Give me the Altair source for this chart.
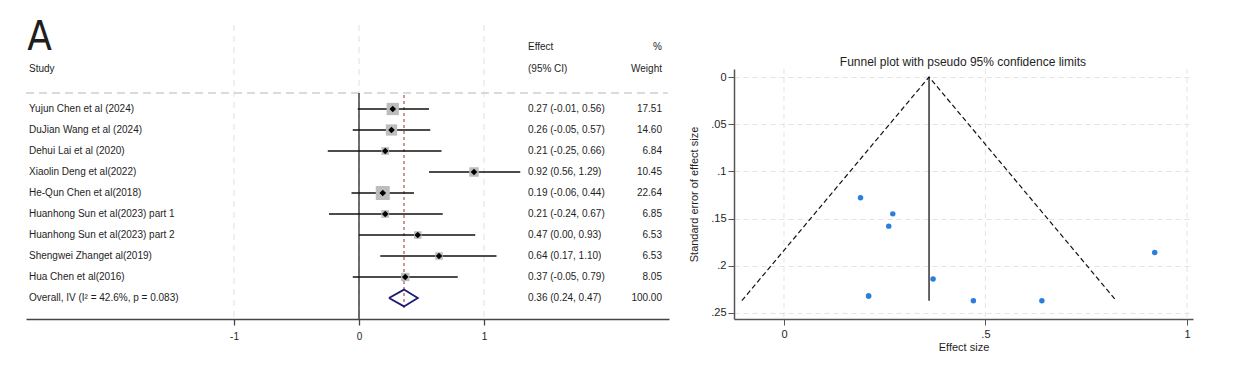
import altair as alt
import pandas as pd

# ---------------- data ----------------
studies = [
    "Yujun Chen et al (2024)",
    "DuJian Wang et al (2024)",
    "Dehui Lai et al (2020)",
    "Xiaolin Deng et al(2022)",
    "He-Qun Chen et al(2018)",
    "Huanhong Sun et al(2023) part 1",
    "Huanhong Sun et al(2023) part 2",
    "Shengwei Zhanget al(2019)",
    "Hua Chen et al(2016)",
]
effects = [0.27, 0.26, 0.21, 0.92, 0.19, 0.21, 0.47, 0.64, 0.37]
lower = [-0.01, -0.05, -0.25, 0.56, -0.06, -0.24, 0.00, 0.17, -0.05]
upper = [0.56, 0.57, 0.66, 1.29, 0.44, 0.67, 0.93, 1.10, 0.79]
weights = [17.51, 14.60, 6.84, 10.45, 22.64, 6.85, 6.53, 6.53, 8.05]
std_errors = [0.145, 0.158, 0.232, 0.186, 0.128, 0.232, 0.237, 0.237, 0.214]

overall_label = "Overall, IV (I\u00b2 = 42.6%, p = 0.083)"
overall_effect = 0.36
overall_lower = 0.24
overall_upper = 0.47
overall_weight = 100.00

forest_ticks = [-1, 0, 1]
funnel_x_ticks = [0, 0.5, 1]
funnel_y_ticks = [0, 0.05, 0.1, 0.15, 0.2, 0.25]

# ---------------- layout constants ----------------
FONT = "Liberation Sans"
TXT = "#1e1e1e"
rows = list(range(1, len(studies) + 1))
overall_row = len(studies) + 1

FX_DOM = [-2.664, 2.48]
FY_DOM = [-3.619, 11.0]
col_study = -2.64
col_effect = 1.352
col_weight = 2.424

fx = alt.X(
    "x:Q",
    scale=alt.Scale(domain=FX_DOM, nice=False, zero=False),
    axis=alt.Axis(
        values=forest_ticks, labelExpr="toString(datum.value)", grid=False, title=None,
        tickSize=6, labelPadding=6, domainColor="#444", tickColor="#444",
        domainWidth=1.5, tickWidth=1.3, labelFontSize=10, labelColor=TXT, labelFont=FONT,
    ),
)
fy = alt.Y("y:Q", scale=alt.Scale(domain=FY_DOM, reverse=True, nice=False, zero=False), axis=None)

# grid lines
vgrid = pd.DataFrame({"x": forest_ticks, "y": [-3.0] * 3, "y2": [11.0] * 3})
l_vgrid = alt.Chart(vgrid).mark_rule(color="#e0e0e0", strokeDash=[6, 5], strokeWidth=1).encode(
    x=fx, y=fy, y2="y2:Q")

hline = pd.DataFrame({"x": [FX_DOM[0]], "x2": [2.47], "y": [0.238]})
l_hline = alt.Chart(hline).mark_rule(color="#cfcfcf", strokeDash=[8, 5], strokeWidth=1.6).encode(
    x=fx, x2="x2:Q", y=fy)

zero = pd.DataFrame({"x": [0], "y": [0.238], "y2": [11.0]})
l_zero = alt.Chart(zero).mark_rule(color="#222", strokeWidth=1.3).encode(x=fx, y=fy, y2="y2:Q")

ovl = pd.DataFrame({"x": [overall_effect], "y": [0.33], "y2": [10.5]})
l_ovl = alt.Chart(ovl).mark_rule(color="#b05050", strokeDash=[3, 3], strokeWidth=1.2).encode(
    x=fx, y=fy, y2="y2:Q")

studies_df = pd.DataFrame({
    "study": studies, "x": effects, "w": weights,
    "y": rows,
    "ci": [f"{e:.2f} ({l:.2f}, {u:.2f})" for e, l, u in zip(effects, lower, upper)],
    "wt": [f"{w:.2f}" for w in weights],
})
ci_df = pd.DataFrame({"x": lower, "x2": upper, "y": rows})

l_ci = alt.Chart(ci_df).mark_rule(color="#111", strokeWidth=1.5).encode(x=fx, x2="x2:Q", y=fy)
l_sq = alt.Chart(studies_df).mark_square(color="#bdbdbd", opacity=1).encode(
    x=fx, y=fy,
    size=alt.Size("w:Q", scale=alt.Scale(domain=[0, 100], range=[0, 865]), legend=None))
l_pt = alt.Chart(studies_df).mark_point(shape="diamond", filled=True, color="#000", size=44, opacity=1).encode(
    x=fx, y=fy)

dh = 0.4
diamond = pd.DataFrame({
    "x": [overall_lower, overall_effect, overall_upper, overall_effect, overall_lower],
    "y": [overall_row, overall_row - dh, overall_row, overall_row + dh, overall_row],
    "o": [0, 1, 2, 3, 4],
})
l_dia = alt.Chart(diamond).mark_line(color="#1c1c72", strokeWidth=1.8).encode(
    x=fx, y=fy, order="o:O")

def text_layer(df, align, size=10, font=FONT, baseline="middle"):
    return alt.Chart(df).mark_text(
        align=align, baseline=baseline, fontSize=size, font=font, color=TXT
    ).encode(x=fx, y=fy, text="t:N")

left_txt = pd.DataFrame({"x": [col_study] * (len(studies) + 2),
                         "y": [-0.905] + rows + [overall_row],
                         "t": ["Study"] + studies + [overall_label]})
eff_txt = pd.DataFrame({"x": [col_effect] * (len(studies) + 3),
                        "y": [-1.952, -0.905] + rows + [overall_row],
                        "t": ["Effect", "(95% CI)"] + list(studies_df["ci"])
                        + [f"{overall_effect:.2f} ({overall_lower:.2f}, {overall_upper:.2f})"]})
wt_txt = pd.DataFrame({"x": [col_weight] * (len(studies) + 3),
                       "y": [-1.952, -0.905] + rows + [overall_row],
                       "t": ["%", "Weight"] + list(studies_df["wt"]) + [f"{overall_weight:.2f}"]})
panel_txt = pd.DataFrame({"x": [-2.655], "y": [-1.81], "t": ["A"]})

left = alt.layer(
    l_vgrid, l_hline, l_zero, l_ovl, l_ci, l_sq, l_pt, l_dia,
    text_layer(left_txt, "left"),
    text_layer(eff_txt, "left"),
    text_layer(wt_txt, "right"),
    text_layer(panel_txt, "left", size=40,
               font="DejaVu Sans Condensed, Roboto Condensed, Roboto, sans-serif",
               baseline="alphabetic"),
).properties(width=643, height=307)

# ---------------- funnel plot ----------------
RX_DOM = [-0.124, 1.015]
RY_DOM = [-0.0085, 0.2564]

rx = alt.X(
    "x:Q",
    scale=alt.Scale(domain=RX_DOM, nice=False, zero=False),
    axis=alt.Axis(
        values=funnel_x_ticks, format=".1~f", labelExpr="replace(datum.label, '0.', '.')",
        grid=False, title="Effect size", titleY=28, titleBaseline="middle",
        titleFontWeight="normal", titleFontSize=11, titleFont=FONT, titleColor=TXT,
        tickSize=6, labelPadding=3, domainColor="#555", tickColor="#555", domainWidth=1.5,
        labelFontSize=11, labelFont=FONT, labelColor=TXT,
    ),
)
ry = alt.Y(
    "y:Q",
    scale=alt.Scale(domain=RY_DOM, range=[57, 307], nice=False, zero=False),
    axis=alt.Axis(
        values=funnel_y_ticks, format=".2~f", labelExpr="replace(datum.label, '0.', '.')",
        grid=True, gridDash=[5, 4], gridColor="#e3e3e3", gridWidth=1,
        title="Standard error of effect size", titleX=-40, titleBaseline="middle",
        titleFontWeight="normal", titleFontSize=11, titleFont=FONT, titleColor=TXT,
        tickSize=6, labelPadding=2, domainColor="#555", tickColor="#555", domainWidth=1.5,
        labelFontSize=11, labelFont=FONT, labelColor=TXT, labelAngle=0,
    ),
)

rgrid = pd.DataFrame({"x": funnel_x_ticks, "y": [RY_DOM[0]] * 3, "y2": [RY_DOM[1]] * 3})
r_grid = alt.Chart(rgrid).mark_rule(color="#e3e3e3", strokeDash=[5, 4], strokeWidth=1).encode(
    x=rx, y=ry, y2="y2:Q")

se_max = max(std_errors)
funnel = pd.DataFrame({
    "x": [overall_effect - 1.96 * se_max, overall_effect, overall_effect + 1.96 * se_max],
    "y": [se_max, 0, se_max],
    "o": [0, 1, 2],
})
r_funnel = alt.Chart(funnel).mark_line(color="#111", strokeDash=[5, 3], strokeWidth=1.2).encode(
    x=rx, y=ry, order="o:O")

center = pd.DataFrame({"x": [overall_effect], "y": [0], "y2": [se_max]})
r_center = alt.Chart(center).mark_rule(color="#111", strokeWidth=1.3).encode(x=rx, y=ry, y2="y2:Q")

pts = pd.DataFrame({"x": effects, "y": std_errors})
r_pts = alt.Chart(pts).mark_circle(color="#2a7fdc", size=30, opacity=1).encode(x=rx, y=ry)

title_df = pd.DataFrame({"x": [0.444], "y": [-0.0159], "t": ["Funnel plot with pseudo 95% confidence limits"]})
r_title = alt.Chart(title_df).mark_text(fontSize=12, font=FONT, color=TXT, baseline="middle", align="center").encode(
    x=rx, y=ry, text="t:N")

right = alt.layer(r_grid, r_funnel, r_center, r_pts, r_title).properties(width=459, height=307)

chart = alt.hconcat(left, right, spacing=65, bounds="flush").properties(
    padding={"left": 17, "top": 4, "right": 5, "bottom": 5}
).configure(font=FONT).configure_view(stroke=None, strokeWidth=0)

chart.save("out.html", embed_options={"renderer": "svg", "actions": False})
